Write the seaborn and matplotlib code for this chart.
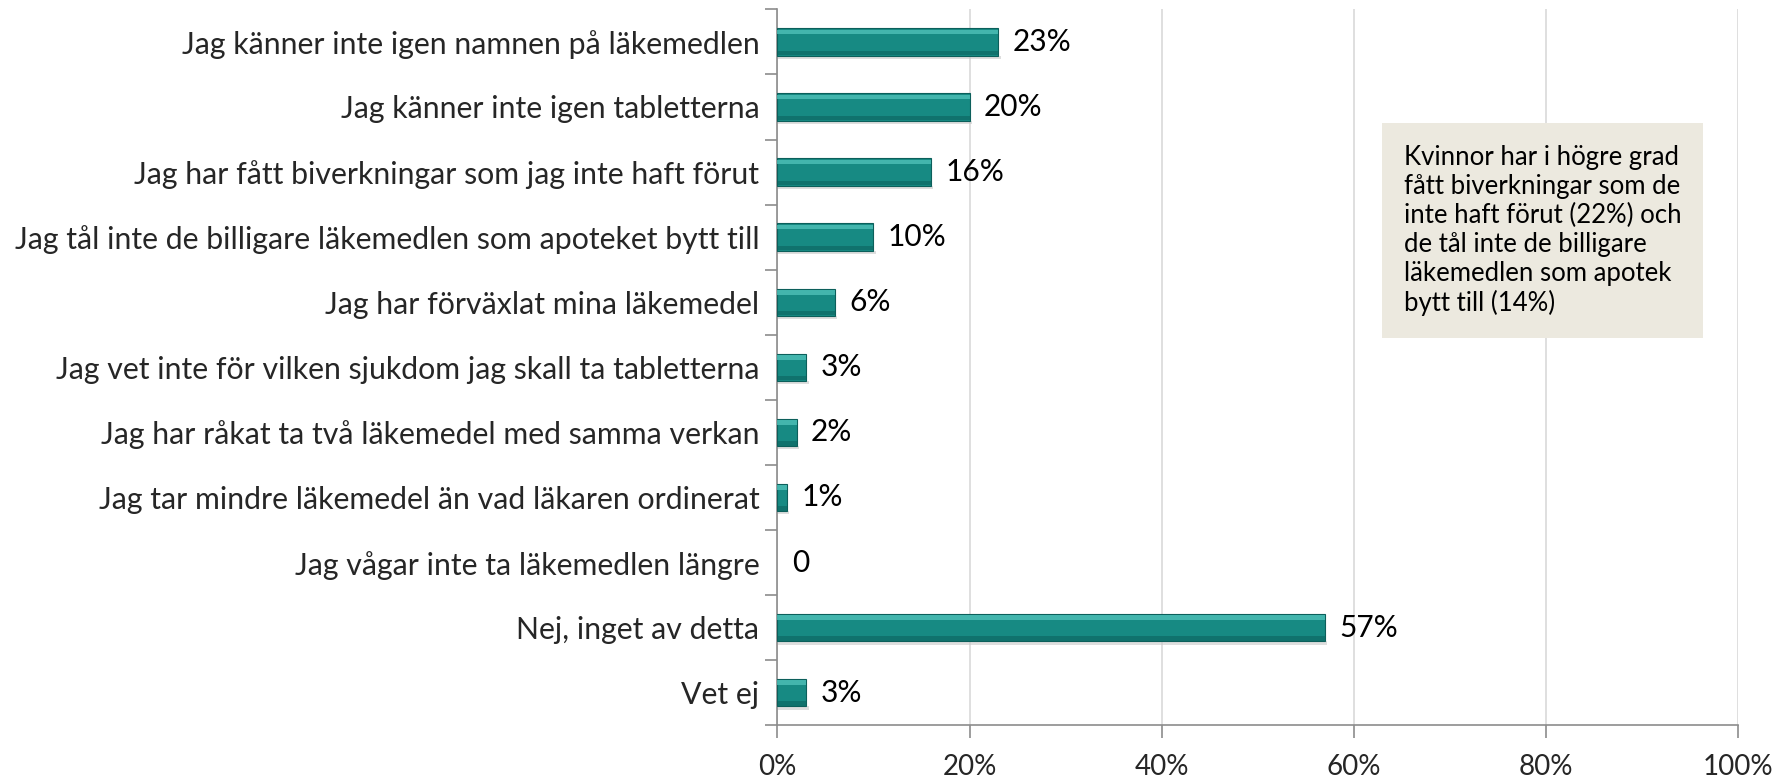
#!/usr/bin/env python3
"""Horizontal bar chart of medication mix-up answers (Swedish survey)."""

import numpy as np
import pandas as pd
import matplotlib
matplotlib.use("Agg")
import matplotlib.pyplot as plt
import matplotlib.patches as mpatches
from matplotlib.ticker import FixedLocator, PercentFormatter
import seaborn as sns

# ── data ────────────────────────────────────────────────────────────
answers = [
    "Jag känner inte igen namnen på läkemedlen",
    "Jag känner inte igen tabletterna",
    "Jag har fått biverkningar som jag inte haft förut",
    "Jag tål inte de billigare läkemedlen som apoteket bytt till",
    "Jag har förväxlat mina läkemedel",
    "Jag vet inte för vilken sjukdom jag skall ta tabletterna",
    "Jag har råkat ta två läkemedel med samma verkan",
    "Jag tar mindre läkemedel än vad läkaren ordinerat",
    "Jag vågar inte ta läkemedlen längre",
    "Nej, inget av detta",
    "Vet ej",
]
shares = [23, 20, 16, 10, 6, 3, 2, 1, 0, 57, 3]
value_labels = ["23%", "20%", "16%", "10%", "6%", "3%", "2%", "1%", "0", "57%", "3%"]
x_ticks = [0, 20, 40, 60, 80, 100]

note = ("Kvinnor har i högre grad\nfått biverkningar som de\ninte haft förut (22%) och\n"
        "de tål inte de billigare\nläkemedlen som apotek\nbytt till (14%)")

TEAL = "#178a83"
TEAL_DARK = "#0c5f5b"
TEAL_LIGHT = "#52c4bc"
GRID = "#d9d9d9"
AXIS = "#8c8c8c"

df = pd.DataFrame({"answer": answers, "share": shares})

sns.set_theme(style="white")
plt.rcParams["font.family"] = ["Lato", "DejaVu Sans"]

fig, ax = plt.subplots(figsize=(17.75, 7.79), dpi=100)
fig.subplots_adjust(left=0.438, right=0.979, top=0.988, bottom=0.069)

sns.barplot(data=df, x="share", y="answer", orient="h", color=TEAL,
            width=0.42, saturation=1, ax=ax, zorder=3,
            edgecolor=TEAL_DARK, linewidth=0.8)

# bevel-ish highlight and soft shadow on each bar
for p in ax.patches[:len(shares)]:
    x0, y0 = p.get_x(), p.get_y()
    w, h = p.get_width(), p.get_height()
    if w <= 0:
        p.set_linewidth(0)
        continue
    ax.add_patch(mpatches.Rectangle((x0, y0 + h * 1.0), w + 0.25, h * 0.12,
                                    facecolor="#c8c8c8", edgecolor="none",
                                    alpha=0.6, zorder=2))
    ax.add_patch(mpatches.Rectangle((x0, y0 + h * 0.05), w, h * 0.17,
                                    facecolor=TEAL_LIGHT, edgecolor="none",
                                    alpha=0.75, zorder=4))
    ax.add_patch(mpatches.Rectangle((x0, y0 + h * 0.82), w, h * 0.16,
                                    facecolor=TEAL_DARK, edgecolor="none",
                                    alpha=0.55, zorder=4))

# value labels
for i, (v, lab) in enumerate(zip(shares, value_labels)):
    ax.text(v + 1.5, i, lab, va="center", ha="left", fontsize=21.5,
            color="#000000", zorder=5)

ax.set_xlim(0, 100)
ax.set_ylim(len(answers) - 0.5, -0.5)
ax.xaxis.set_major_locator(FixedLocator(x_ticks))
ax.xaxis.set_major_formatter(PercentFormatter(decimals=0))
ax.grid(axis="x", color=GRID, linewidth=1.2, zorder=0)
ax.grid(axis="y", visible=False)

# y ticks at the category boundaries, labels at the centres
ax.set_yticks(np.arange(len(answers) + 1) - 0.5)
ax.set_yticklabels([])
ax.set_yticks(np.arange(len(answers)), minor=True)
ax.set_yticklabels(answers, minor=True)
ax.tick_params(axis="y", which="major", length=9, width=1.2, color=AXIS, direction="out", left=True)
ax.tick_params(axis="y", which="minor", length=0, pad=13, labelsize=21.8)
ax.tick_params(axis="x", length=9, width=1.2, color=AXIS, direction="out", bottom=True,
               pad=12, labelsize=20)
ax.set_xlabel("")
ax.set_ylabel("")

for side in ("top", "right"):
    ax.spines[side].set_visible(False)
for side in ("left", "bottom"):
    ax.spines[side].set_color(AXIS)
    ax.spines[side].set_linewidth(1.2)

# annotation box
ax.text(0.652, 0.811, note, transform=ax.transAxes, ha="left", va="top",
        fontsize=18.5, linespacing=1.2, color="#000000", zorder=6,
        bbox=dict(boxstyle="square,pad=0.85", facecolor="#ece9df", edgecolor="none"))

fig.savefig("out.png", dpi=100)
plt.close(fig)
